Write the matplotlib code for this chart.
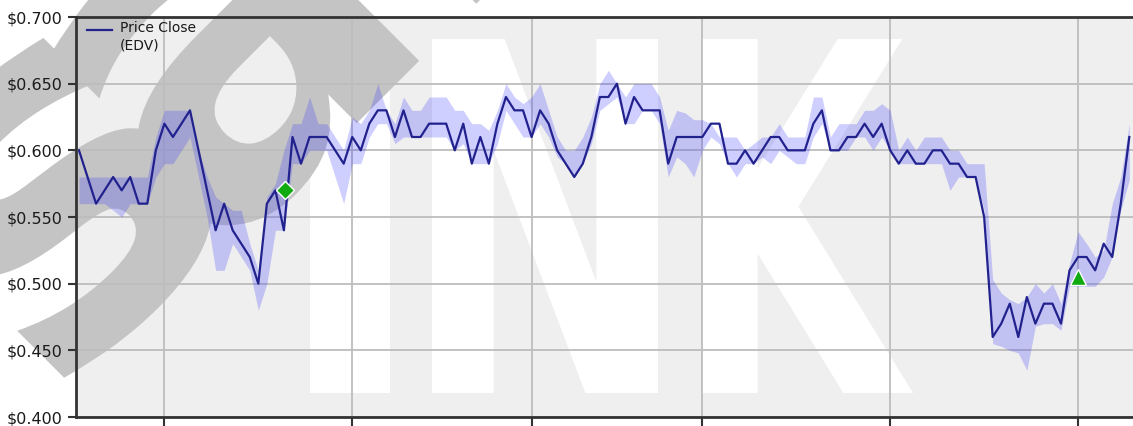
import matplotlib
matplotlib.use("Agg")
import matplotlib.pyplot as plt
from matplotlib.textpath import TextPath
from matplotlib.patches import PathPatch, Rectangle
from matplotlib.font_manager import FontProperties
from matplotlib.transforms import Affine2D
from matplotlib.ticker import FuncFormatter

# daily close of EDV (one value per trading day)
close = [0.60, 0.58, 0.56, 0.57, 0.58, 0.57, 0.58, 0.56, 0.56, 0.60,
         0.62, 0.61, 0.62, 0.63, 0.60, 0.57, 0.54, 0.56, 0.54, 0.53,
         0.52, 0.50, 0.56, 0.57, 0.54, 0.61, 0.59, 0.61, 0.61, 0.61,
         0.60, 0.59, 0.61, 0.60, 0.62, 0.63, 0.63, 0.61, 0.63, 0.61,
         0.61, 0.62, 0.62, 0.62, 0.60, 0.62, 0.59, 0.61, 0.59, 0.62,
         0.64, 0.63, 0.63, 0.61, 0.63, 0.62, 0.60, 0.59, 0.58, 0.59,
         0.61, 0.64, 0.64, 0.65, 0.62, 0.64, 0.63, 0.63, 0.63, 0.59,
         0.61, 0.61, 0.61, 0.61, 0.62, 0.62, 0.59, 0.59, 0.60, 0.59,
         0.60, 0.61, 0.61, 0.60, 0.60, 0.60, 0.62, 0.63, 0.60, 0.60,
         0.61, 0.61, 0.62, 0.61, 0.62, 0.60, 0.59, 0.60, 0.59, 0.59,
         0.60, 0.60, 0.59, 0.59, 0.58, 0.58, 0.55, 0.46, 0.47, 0.485,
         0.46, 0.49, 0.47, 0.485, 0.485, 0.47, 0.51, 0.52, 0.52, 0.51,
         0.53, 0.52, 0.56, 0.61]

band_low = [0.56, 0.56, 0.56, 0.56, 0.555, 0.55, 0.56, 0.56, 0.56, 0.58,
            0.59, 0.59, 0.60, 0.61, 0.58, 0.55, 0.51, 0.51, 0.53, 0.52,
            0.51, 0.48, 0.50, 0.54, 0.54, 0.59, 0.59, 0.60, 0.60, 0.60,
            0.58, 0.56, 0.59, 0.59, 0.61, 0.62, 0.62, 0.605, 0.61, 0.61,
            0.61, 0.61, 0.61, 0.61, 0.60, 0.605, 0.59, 0.59, 0.59, 0.605,
            0.63, 0.62, 0.61, 0.61, 0.62, 0.61, 0.595, 0.59, 0.58, 0.59,
            0.605, 0.63, 0.635, 0.64, 0.62, 0.62, 0.63, 0.63, 0.62, 0.58,
            0.595, 0.59, 0.58, 0.60, 0.61, 0.605, 0.59, 0.58, 0.59, 0.59,
            0.595, 0.59, 0.60, 0.595, 0.59, 0.59, 0.61, 0.62, 0.60, 0.60,
            0.60, 0.61, 0.61, 0.60, 0.61, 0.60, 0.59, 0.59, 0.59, 0.59,
            0.59, 0.59, 0.57, 0.58, 0.58, 0.58, 0.555, 0.455, 0.453, 0.45,
            0.448, 0.435, 0.468, 0.47, 0.47, 0.465, 0.498, 0.498, 0.498, 0.498,
            0.505, 0.52, 0.555, 0.578]

band_high = [0.58, 0.58, 0.58, 0.58, 0.58, 0.58, 0.58, 0.58, 0.58, 0.61,
             0.63, 0.63, 0.63, 0.63, 0.60, 0.58, 0.565, 0.56, 0.555, 0.555,
             0.53, 0.51, 0.565, 0.575, 0.60, 0.62, 0.62, 0.64, 0.62, 0.62,
             0.61, 0.60, 0.625, 0.62, 0.63, 0.65, 0.63, 0.62, 0.64, 0.63,
             0.63, 0.64, 0.64, 0.64, 0.63, 0.63, 0.62, 0.62, 0.615, 0.63,
             0.65, 0.64, 0.635, 0.64, 0.65, 0.63, 0.61, 0.60, 0.60, 0.61,
             0.625, 0.65, 0.66, 0.65, 0.64, 0.65, 0.65, 0.65, 0.64, 0.615,
             0.63, 0.628, 0.623, 0.623, 0.62, 0.61, 0.61, 0.61, 0.60, 0.605,
             0.61, 0.61, 0.62, 0.61, 0.61, 0.61, 0.64, 0.64, 0.61, 0.62,
             0.62, 0.62, 0.63, 0.63, 0.635, 0.63, 0.60, 0.61, 0.60, 0.61,
             0.61, 0.61, 0.60, 0.60, 0.59, 0.59, 0.59, 0.503, 0.493, 0.488,
             0.485, 0.49, 0.50, 0.493, 0.50, 0.485, 0.515, 0.539, 0.53, 0.52,
             0.525, 0.56, 0.58, 0.62]

# month boundaries (trading day index) used for the vertical grid
month_ticks = [10, 32, 53, 73, 95, 117]

# buy/sell signals
signal_x = [24.1, 117]
signal_y = [0.570, 0.505]
signal_marker = ['D', '^']
signal_size = [9, 12]

W, H = 1133, 426
fig = plt.figure(figsize=(W / 100, H / 100), dpi=100)

# background layer in pixel coordinates (y up): plot area + watermarks
bg = fig.add_axes([0, 0, 1, 1], zorder=0)
bg.set_xlim(0, W)
bg.set_ylim(0, H)
bg.axis('off')
bg.add_patch(Rectangle((76, 9), W - 76, 400, facecolor='#efefef', edgecolor='none', zorder=1))

bold = FontProperties(family='DejaVu Sans', weight='bold')


def fit_letter(ch, x0, x1, y0, y1):
    p = TextPath((0, 0), ch, size=100, prop=bold)
    b = p.get_extents()
    t = Affine2D().translate(-b.x0, -b.y0).scale((x1 - x0) / b.width, (y1 - y0) / b.height).translate(x0, y0)
    return t.transform_path(p)


# white "INK" letters, one box per letter
for ch, x0, x1 in [("I", 310, 390), ("N", 432, 658), ("K", 702, 913)]:
    bg.add_patch(PathPatch(fit_letter(ch, x0, x1, 33, 387), facecolor='white', edgecolor='none', zorder=2))

# grey rotated "sample" stamp
t_s = Affine2D().scale(500).rotate_deg(45).translate(50, 20)
t_rest = Affine2D().scale(500).rotate_deg(45).translate(-2, -56)
s_path = TextPath((0, 0), "s", size=1, prop=bold)
rest_path = TextPath((0.595, 0), "ample", size=1, prop=bold)
bg.add_patch(PathPatch(t_s.transform_path(s_path), facecolor='#c4c4c4', edgecolor='none', zorder=3))
bg.add_patch(PathPatch(t_rest.transform_path(rest_path), facecolor='#c4c4c4', edgecolor='none', zorder=3))

# main chart
ax = fig.add_axes([76 / W, 9 / H, (W - 76 + 4) / W, 400 / H], zorder=1)
ax.set_facecolor('none')
days = list(range(len(close)))

ax.fill_between(days, band_low, band_high, color='#3434ff', alpha=0.24, linewidth=0, zorder=2)
ax.plot(days, close, color='#22228e', linewidth=1.6, zorder=3)
for x, y, m, s in zip(signal_x, signal_y, signal_marker, signal_size):
    ax.plot(x, y, marker=m, markersize=s, color='#11aa11', markeredgecolor='white',
            markeredgewidth=1.0, linestyle='none', zorder=4)

ax.set_xlim(-0.35, 123.9)
ax.set_ylim(0.40, 0.70)
ax.set_yticks([0.40, 0.45, 0.50, 0.55, 0.60, 0.65, 0.70])
ax.yaxis.set_major_formatter(FuncFormatter(lambda v, p: f"${v:.3f}"))
ax.set_xticks(month_ticks)
ax.set_xticklabels([])

ax.grid(True, color='#bdbdbd', linewidth=1.3, zorder=1)
ax.set_axisbelow(True)
ax.tick_params(axis='y', direction='out', length=6, width=1.5, color='#333333',
               labelsize=11.5, pad=4, labelcolor='#1a1a1a')
ax.tick_params(axis='x', direction='out', length=8, width=1.5, color='#333333')
for side in ['left', 'top', 'bottom']:
    ax.spines[side].set_color('#333333')
    ax.spines[side].set_linewidth(2)
ax.spines['right'].set_visible(False)

# legend drawn by hand: handle next to first line of the two-line label
aw, ah = W - 76 + 4, 400
ax.plot([(87 - 76) / aw, (112 - 76) / aw], [(417 - 30) / ah] * 2, transform=ax.transAxes,
        color='#22228e', linewidth=1.6, clip_on=False, zorder=5)
ax.text((120 - 76) / aw, (417 - 21) / ah, "Price Close\n(EDV)", transform=ax.transAxes,
        fontsize=10, va='top', ha='left', color='#1a1a1a', linespacing=1.35, zorder=5)

fig.savefig('out.png', dpi=100)
